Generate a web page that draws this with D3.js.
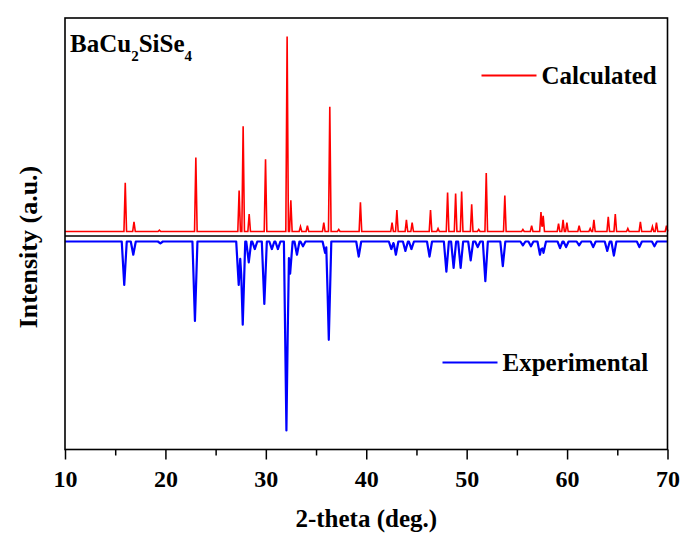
<!DOCTYPE html>
<html>
<head>
<meta charset="utf-8">
<script src="https://d3js.org/d3.v7.min.js"></script>
<style>
body { margin: 0; background: #fff; }
text { font-family: "Liberation Serif", "Times New Roman", serif; font-weight: bold; fill: #000; }
</style>
</head>
<body>
<svg id="chart" width="682" height="533"></svg>
<script>
// calculated pattern: peak positions (2-theta, deg) and relative intensity (%)
var calcPos = [16.0, 16.87, 19.4, 23.03, 27.34, 27.74, 28.34, 29.97, 32.12, 32.49, 33.45, 34.14,
  35.77, 36.37, 37.26, 39.42, 42.57, 43.05, 44.0, 44.57, 46.4, 47.15, 48.1, 48.9, 49.5, 50.5,
  51.2, 51.95, 53.8, 55.6, 56.47, 57.4, 57.62, 59.15, 59.6, 59.98, 61.2, 62.3, 62.67, 64.1,
  64.8, 66.05, 67.3, 68.5, 68.9, 69.9];
var calcInt = [25, 5, 0.7, 38, 21, 54, 9, 37, 100, 16, 2.5, 3,
  4.5, 64, 1, 15, 4.5, 11, 6, 4.5, 11, 1.5, 20, 19.5, 20.5, 14,
  1, 30, 18.5, 1, 3, 10, 8, 4, 6, 4.5, 3, 1.5, 6, 7.5,
  9, 1.5, 5, 2.5, 4.5, 3];

// experimental pattern: peak positions and relative intensity (%)
var expPos = [15.9, 16.8, 19.5, 22.94, 27.3, 27.7, 28.3, 28.9, 29.85, 30.6, 31.2, 32.05, 32.42,
  33.1, 33.7, 35.9, 36.27, 39.25, 42.5, 42.95, 43.9, 44.5, 46.3, 47.98, 48.7, 49.4, 50.4, 51.1,
  51.86, 53.6, 55.6, 56.4, 57.3, 57.65, 59.3, 59.9, 61.2, 62.6, 64.0, 64.66, 67.2, 68.7];
var expInt = [23, 7, 1, 42, 23, 44, 11, 4, 33, 4, 4, 100, 17,
  7, 2.5, 6, 52, 8, 4, 7, 5, 4, 8, 16, 14, 14, 10, 3,
  21, 13, 2, 2.5, 7, 6, 3.5, 3, 2, 3, 5, 7.5, 3, 2.5];

var xTicks = [10, 20, 30, 40, 50, 60, 70];
var xMinor = [15, 25, 35, 45, 55, 65];
var seriesNames = ["Calculated", "Experimental"];
var seriesColors = ["#ff0000", "#0000ff"];

var svg = d3.select("#chart");
var pLeft = 65, pRight = 667.5, pTop = 18, pBottom = 449.5;

var x = d3.scaleLinear().domain([10, 70]).range([pLeft, pRight]);
// arbitrary units, 0 sits on the black separator line
var y = d3.scaleLinear().domain([-213.5, 218]).range([pBottom, pTop]);

// peak list -> polyline of triangular peaks
function profile(pos, ints, w) {
  var xs = [10, 70];
  pos.forEach(function(p) { xs.push(p - w, p, p + w); });
  xs.sort(d3.ascending);
  return xs.map(function(t) {
    var s = 0;
    pos.forEach(function(p, i) {
      var d = Math.abs(t - p);
      if (d < w) s += ints[i] * (1 - d / w);
    });
    return [t, s];
  });
}

var calcLine = d3.line()
  .x(function(d) { return x(d[0]); })
  .y(function(d) { return y(4.5 + d[1] * 1.95); });
var expLine = d3.line()
  .x(function(d) { return x(d[0]); })
  .y(function(d) { return y(-5.5 - d[1] * 1.89); });

// separator line
svg.append("line")
  .attr("x1", pLeft).attr("x2", pRight)
  .attr("y1", y(0)).attr("y2", y(0))
  .attr("stroke", "#000").attr("stroke-width", 1.5);

svg.append("path")
  .attr("d", calcLine(profile(calcPos, calcInt, 0.13)))
  .attr("fill", "none")
  .attr("stroke", seriesColors[0])
  .attr("stroke-width", 1.6);

svg.append("path")
  .attr("d", expLine(profile(expPos, expInt, 0.25)))
  .attr("fill", "none")
  .attr("stroke", seriesColors[1])
  .attr("stroke-width", 2.2)
  .attr("stroke-linejoin", "round");

// frame
svg.append("rect")
  .attr("x", pLeft).attr("y", pTop)
  .attr("width", pRight - pLeft).attr("height", pBottom - pTop)
  .attr("fill", "none").attr("stroke", "#000").attr("stroke-width", 1.6);

// x axis
var gx = svg.append("g")
  .attr("transform", "translate(0," + pBottom + ")")
  .call(d3.axisBottom(x).tickValues(xTicks).tickSize(10).tickFormat(d3.format("d")));
gx.select(".domain").remove();
gx.selectAll("line").attr("stroke", "#000").attr("stroke-width", 1.5);
gx.selectAll("text")
  .attr("dy", null).attr("y", 37)
  .style("font-size", "24px")
  .style("font-family", "Liberation Serif, Times New Roman, serif")
  .style("font-weight", "bold")
  .attr("fill", "#000");

var gm = svg.append("g")
  .attr("transform", "translate(0," + pBottom + ")")
  .call(d3.axisBottom(x).tickValues(xMinor).tickSize(6).tickFormat(""));
gm.select(".domain").remove();
gm.selectAll("line").attr("stroke", "#000").attr("stroke-width", 1.5);

// axis titles
svg.append("text")
  .attr("x", (pLeft + pRight) / 2).attr("y", 527)
  .attr("text-anchor", "middle")
  .style("font-size", "25px")
  .text("2-theta (deg.)");

svg.append("text")
  .attr("transform", "translate(37,247) rotate(-90)")
  .attr("text-anchor", "middle")
  .style("font-size", "26px")
  .text("Intensity (a.u.)");

// compound label
var title = svg.append("text").attr("x", 70).attr("y", 52).style("font-size", "25px");
title.append("tspan").text("BaCu");
title.append("tspan").attr("dy", 9).style("font-size", "15px").text("2");
title.append("tspan").attr("dy", -9).text("SiSe");
title.append("tspan").attr("dy", 9).style("font-size", "15px").text("4");

// legends
var legendPos = [[481.5, 536.5, 75.5], [442.5, 497.5, 362.5]];
legendPos.forEach(function(p, i) {
  svg.append("line")
    .attr("x1", p[0]).attr("x2", p[1])
    .attr("y1", p[2]).attr("y2", p[2])
    .attr("stroke", seriesColors[i]).attr("stroke-width", 2);
  svg.append("text")
    .attr("x", p[1] + 5).attr("y", p[2] + 8)
    .style("font-size", "25px")
    .text(seriesNames[i]);
});
</script>
</body>
</html>
